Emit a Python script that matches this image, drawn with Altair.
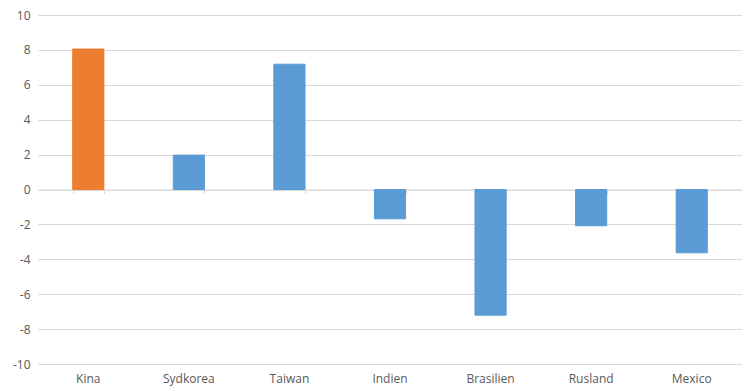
import altair as alt
import pandas as pd

countries = ["Kina", "Sydkorea", "Taiwan", "Indien", "Brasilien", "Rusland", "Mexico"]
values = [8.05, 1.97, 7.18, -1.68, -7.2, -2.08, -3.63]
colors = ["#ED7D31", "#5B9BD5", "#5B9BD5", "#5B9BD5", "#5B9BD5", "#5B9BD5", "#5B9BD5"]

df = pd.DataFrame({"land": countries, "v": values, "c": colors})

FONT = "Open Sans"
xscale = alt.Scale(domain=countries, paddingInner=0.69, paddingOuter=0.345)
yscale = alt.Scale(domain=[-10, 10], nice=False, zero=False)

bars = alt.Chart(df).mark_bar(strokeWidth=1, opacity=1).encode(
    x=alt.X("land:N", sort=countries, scale=xscale, title=None,
            axis=alt.Axis(orient="bottom", domain=False, ticks=False, labelAngle=0,
                          labelPadding=9, labelFontSize=12, labelFont=FONT,
                          labelColor="#595959", grid=False)),
    y=alt.Y("v:Q", scale=yscale, title=None,
            axis=alt.Axis(values=list(range(-10, 11, 2)), domain=False, ticks=False,
                          labelExpr="'' + datum.value",
                          labelPadding=8, labelFontSize=12, labelFont=FONT,
                          labelColor="#595959", gridColor="#D9D9D9", gridWidth=1)),
    color=alt.Color("c:N", scale=None),
    stroke=alt.Color("c:N", scale=None),
)

zero_axis = alt.Chart(df).mark_bar(opacity=0).encode(
    x=alt.X("land:N", sort=countries, scale=xscale, title=None,
            axis=alt.Axis(orient="bottom", offset=-174.5, labels=False, domain=True,
                          domainColor="#D9D9D9", domainWidth=1, ticks=True,
                          tickColor="#D9D9D9", tickSize=4, tickBand="extent",
                          grid=False)),
    y=alt.Y("v:Q", scale=yscale, axis=None),
)

chart = alt.layer(bars, zero_axis).resolve_axis(x="independent", y="independent").properties(
    width=704, height=349,
    autosize=alt.AutoSizeParams(type="none"),
    padding={"left": 30, "top": 7, "right": 0, "bottom": 26},
).configure_view(stroke=None)

chart.save("out.html", embed_options={"renderer": "svg", "actions": False})
